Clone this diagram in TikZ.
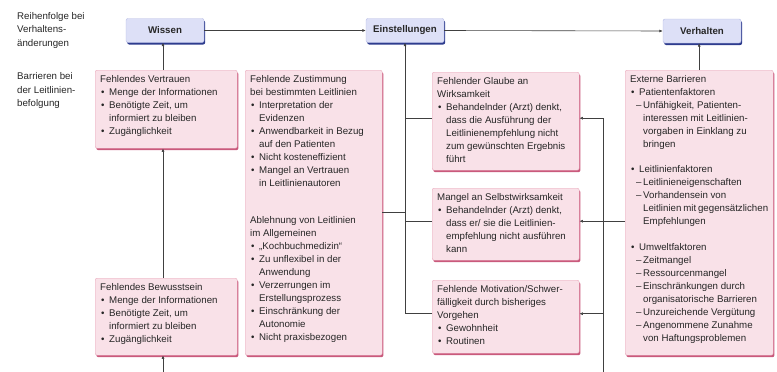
\documentclass[tikz,border=0pt]{standalone}
\usepackage{fontspec}
\setmainfont{Liberation Sans}
\usetikzlibrary{arrows.meta,shadows}
\definecolor{pinkfill}{HTML}{F9E1E8}
\definecolor{pinkdraw}{HTML}{E9A9BC}
\definecolor{pinkshadow}{HTML}{C95A7C}
\definecolor{bluefill}{HTML}{DDE0F7}
\definecolor{bluedraw}{HTML}{B4BAE4}
\definecolor{blueshadow}{HTML}{2E3C8E}
\definecolor{txt}{HTML}{262626}
\definecolor{conncol}{HTML}{404040}
\newcommand{\bl}{\par\noindent\hangindent=9pt\hangafter=1\makebox[9pt][l]{\hspace{1pt}\textbullet}}
\newcommand{\dl}{\par\noindent\hangindent=13pt\hangafter=1\makebox[13pt][l]{\hspace{6pt}–}}
\newcommand{\gap}[1]{\par\vspace{#1}}
\begin{document}
\begin{tikzpicture}[x=1pt,y=-1pt,
  every node/.style={text=txt, font=\fontsize{9.7}{13}\selectfont},
  topbox/.style={draw=bluedraw, fill=bluefill, line width=0.4pt, rounded corners=2pt,
    minimum width=78pt, minimum height=24pt, inner sep=2pt,
    font=\fontsize{9.7}{13}\selectfont\bfseries,
    copy shadow={shadow xshift=1.2pt, shadow yshift=-2pt, draw=none, fill=blueshadow}},
  pinkbox/.style={draw=pinkdraw, fill=pinkfill, line width=0.4pt, rounded corners=2pt,
    anchor=north west, inner xsep=5pt, inner ysep=3pt, align=left,
    copy shadow={shadow xshift=1.2pt, shadow yshift=-2pt, draw=none, fill=pinkshadow}},
  lab/.style={anchor=north west, inner sep=0pt, align=left, font=\fontsize{9.7}{13.5}\selectfont},
  line/.style={draw=conncol, line width=0.6pt},
  conn/.style={line, -{Latex[length=3.5pt,width=3pt]}}
]
\useasboundingbox (0,0) rectangle (777,372);

% left labels
\node[lab] (lab1) at (17,12) {Reihenfolge bei\\Verhaltens-\\änderungen};
\node[lab] (lab2) at (17,72.5) {Barrieren bei\\der Leitlinien-\\befolgung};

% top row
\node[topbox] (wissen) at (165,30.5) {Wissen};
\node[topbox] (einst) at (405,30.5) {Einstellungen};
\node[topbox] (verh) at (702,31) {Verhalten};

% barrier boxes
\node[pinkbox] (vertr) at (95,70) {\parbox[t][72pt][t]{132pt}{\strut Fehlendes Vertrauen
\bl Menge der Informationen
\bl Benötigte Zeit, um\\ informiert zu bleiben
\bl Zugänglichkeit}};

\node[pinkbox] (bew) at (95,278) {\parbox[t][71pt][t]{132pt}{\strut Fehlendes Bewusstsein
\bl Menge der Informationen
\bl Benötigte Zeit, um\\ informiert zu bleiben
\bl Zugänglichkeit}};

\node[pinkbox] (zust) at (245,70) {\parbox[t][279pt][t]{127pt}{\strut Fehlende Zustimmung\\ bei bestimmten Leitlinien
\bl Interpretation der\\ Evidenzen
\bl Anwendbarkeit in Bezug\\ auf den Patienten
\bl Nicht kosteneffizient
\bl Mangel an Vertrauen\\ in Leitlinienautoren
\gap{24pt}\noindent Ablehnung von Leitlinien\\ im Allgemeinen
\bl „Kochbuchmedizin“
\bl Zu unflexibel in der\\ Anwendung
\bl Verzerrungen im\\ Erstellungsprozess
\bl Einschränkung der\\ Autonomie
\bl Nicht praxisbezogen}};

\node[pinkbox] (glaube) at (432,72) {\parbox[t][92pt][t]{137pt}{\strut Fehlender Glaube an\\ Wirksamkeit
\bl Behandelnder (Arzt) denkt,\\ dass die Ausführung der\\ Leitlinienempfehlung nicht\\ zum gewünschten Ergebnis\\ führt}};

\node[pinkbox] (selbst) at (432,188) {\parbox[t][66pt][t]{137pt}{\strut Mangel an Selbstwirksamkeit
\bl Behandelnder (Arzt) denkt,\\ dass er/ sie die Leitlinien-\\ empfehlung nicht ausführen\\ kann}};

\node[pinkbox] (motiv) at (432,280) {\parbox[t][67pt][t]{137pt}{\strut Fehlende Motivation/Schwer-\\ fälligkeit durch bisheriges\\ Vorgehen
\bl Gewohnheit
\bl Routinen}};

\node[pinkbox] (ext) at (625,70) {\parbox[t][279pt][t]{138pt}{\strut Externe Barrieren
\bl Patientenfaktoren
\dl Unfähigkeit, Patienten-\\ interessen mit Leitlinien-\\ vorgaben in Einklang zu\\ bringen
\gap{12pt}
\bl Leitlinienfaktoren
\dl Leitlinieneigenschaften
\dl Vorhandensein von\\ Leitlinien mit gegensätzlichen\\ Empfehlungen
\gap{13pt}
\bl Umweltfaktoren
\dl Zeitmangel
\dl Ressourcenmangel
\dl Einschränkungen durch\\ organisatorische Barrieren
\dl Unzureichende Vergütung
\dl Angenommene Zunahme\\ von Haftungsproblemen}};

% coordinates
\coordinate (b1) at (163,372);
\coordinate (rb) at (603,372);
\coordinate (g1) at ([yshift=3pt]glaube.west);
\coordinate (g2) at ([yshift=3pt]glaube.east);
\coordinate (s1) at ([yshift=3pt]selbst.west);
\coordinate (s2) at ([yshift=3pt]selbst.east);
\coordinate (m1) at ([yshift=3pt]motiv.west);
\coordinate (m2) at ([yshift=3pt]motiv.east);

% top row arrows
\draw[conn] (wissen.east) -- (einst.west);
\draw[conn] (einst.east) -- (verh.west);

% left column
\draw[conn] (b1 |- vertr.north) -- (b1 |- wissen.south);
\draw[conn] (b1 |- bew.north) -- (b1 |- vertr.south);
\draw[conn] (b1) -- (b1 |- bew.south);

% attitude bus
\draw[conn] (m1) -| (einst.south);
\draw[line] (zust.east) -- (zust.east -| einst.south);
\draw[line] (g1) -- (g1 -| einst.south);
\draw[line] (s1) -- (s1 -| einst.south);

% right bus
\draw[conn] (rb) |- (g2);
\draw[conn] (s2 -| rb) -- (s2);
\draw[conn] (m2 -| rb) -- (m2);
\draw[line] (s2 -| ext.west) -- (s2 -| rb);

% external to behaviour
\draw[conn] (ext.north) -- (ext.north |- verh.south);
\end{tikzpicture}
\end{document}
